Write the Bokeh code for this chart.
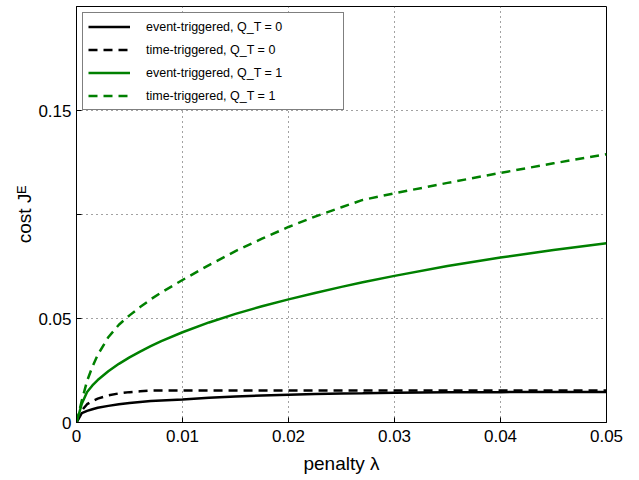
from bokeh.plotting import figure
from bokeh.models import Range1d, FixedTicker
from bokeh.embed import file_html
from bokeh.resources import INLINE

# penalty lambda (x values)
lam = [0, 0.0005, 0.001, 0.0015, 0.002, 0.003, 0.004, 0.005, 0.006, 0.007, 0.008,
       0.01, 0.0125, 0.015, 0.0175, 0.02, 0.0225, 0.025, 0.027, 0.03,
       0.035, 0.04, 0.045, 0.05]

# cost J^E
event_q0 = [0, 0.0045, 0.0056, 0.0064, 0.0071, 0.0080, 0.0088, 0.0094, 0.0099, 0.0103, 0.0106,
            0.0110, 0.0119, 0.0125, 0.0130, 0.0134, 0.0137, 0.0140, 0.0141, 0.0143,
            0.0145, 0.0146, 0.0147, 0.0147]
time_q0 = [0, 0.0058, 0.0088, 0.0103, 0.0115, 0.0130, 0.0140, 0.0146, 0.0150, 0.0153, 0.0154,
           0.0154, 0.0154, 0.0154, 0.0154, 0.0154, 0.0154, 0.0154, 0.0154, 0.0154,
           0.0154, 0.0154, 0.0154, 0.0154]
event_q1 = [0, 0.0090, 0.0147, 0.0178, 0.0204, 0.0246, 0.0282, 0.0313, 0.0341, 0.0367, 0.0391,
            0.0434, 0.0481, 0.0522, 0.0559, 0.0592, 0.0623, 0.0652, 0.0674, 0.0705,
            0.0752, 0.0793, 0.0829, 0.0862]
time_q1 = [0, 0.0105, 0.0200, 0.0268, 0.0325, 0.0410, 0.0470, 0.0515, 0.0555, 0.0592, 0.0625,
           0.0685, 0.0757, 0.0824, 0.0884, 0.0940, 0.0990, 0.1035, 0.1070, 0.1102,
           0.1152, 0.1200, 0.1246, 0.1290]

x_ticks = [0, 0.01, 0.02, 0.03, 0.04, 0.05]
x_tick_labels = ["0", "0.01", "0.02", "0.03", "0.04", "0.05"]
y_ticks = [0, 0.05, 0.1, 0.15, 0.2]
y_tick_labels = ["0", "0.05", "", "0.15", ""]

labels = ["event-triggered, Q_T = 0", "time-triggered, Q_T = 0",
          "event-triggered, Q_T = 1", "time-triggered, Q_T = 1"]

FONT = "Liberation Sans"
GREEN = "#008000"

p = figure(frame_width=530, frame_height=416,
           x_range=Range1d(0, 0.05), y_range=Range1d(0, 0.2),
           output_backend="svg", toolbar_location=None,
           min_border_left=76, min_border_right=18, min_border_top=6,
           min_border_bottom=10, background_fill_color="white",
           border_fill_color="white")

p.outline_line_color = "black"
p.outline_line_width = 1

p.xaxis.ticker = FixedTicker(ticks=x_ticks)
p.yaxis.ticker = FixedTicker(ticks=y_ticks)
p.xaxis.major_label_overrides = dict(zip(x_ticks, x_tick_labels))
p.yaxis.major_label_overrides = dict(zip(y_ticks, y_tick_labels))

for ax in (p.xaxis, p.yaxis):
    ax.major_label_text_font = FONT
    ax.major_label_text_font_size = "17px"
    ax.major_label_text_color = "black"
    ax.axis_label_text_font = FONT
    ax.axis_label_text_font_size = "19px"
    ax.axis_label_text_font_style = "normal"
    ax.axis_label_text_color = "black"
    ax.major_tick_in = 5
    ax.major_tick_out = 0
    ax.minor_tick_line_color = None
    ax.major_tick_line_color = "black"
    ax.axis_line_color = "black"

p.xaxis.major_label_standoff = 7
p.yaxis.major_label_standoff = 5
p.xaxis.axis_label = "penalty λ"
p.yaxis.axis_label = "cost Jᴱ"
p.xaxis.axis_label_standoff = 8
p.yaxis.axis_label_standoff = 0

p.grid.grid_line_color = "#444444"
p.grid.grid_line_dash = "1 4"
p.grid.grid_line_width = 1
p.xgrid.ticker = FixedTicker(ticks=x_ticks[1:-1])
p.ygrid.ticker = FixedTicker(ticks=y_ticks[1:-1])

p.line(lam, event_q0, line_color="black", line_width=2.5, legend_label=labels[0])
p.line(lam, time_q0, line_color="black", line_width=2.5, line_dash="9 6", legend_label=labels[1])
p.line(lam, event_q1, line_color=GREEN, line_width=2.5, legend_label=labels[2])
p.line(lam, time_q1, line_color=GREEN, line_width=2.5, line_dash="9 6", legend_label=labels[3])

lg = p.legend[0]
lg.location = "top_left"
lg.margin = 6
lg.padding = 5
lg.spacing = 6
lg.glyph_width = 42
lg.glyph_height = 17
lg.label_height = 17
lg.label_width = 192
lg.label_standoff = 16
lg.label_text_font = FONT
lg.label_text_font_size = "12.5px"
lg.label_text_color = "black"
lg.border_line_color = "black"
lg.border_line_width = 1
lg.background_fill_alpha = 1
lg.background_fill_color = "white"

open("out.html", "w").write(file_html(p, INLINE))
